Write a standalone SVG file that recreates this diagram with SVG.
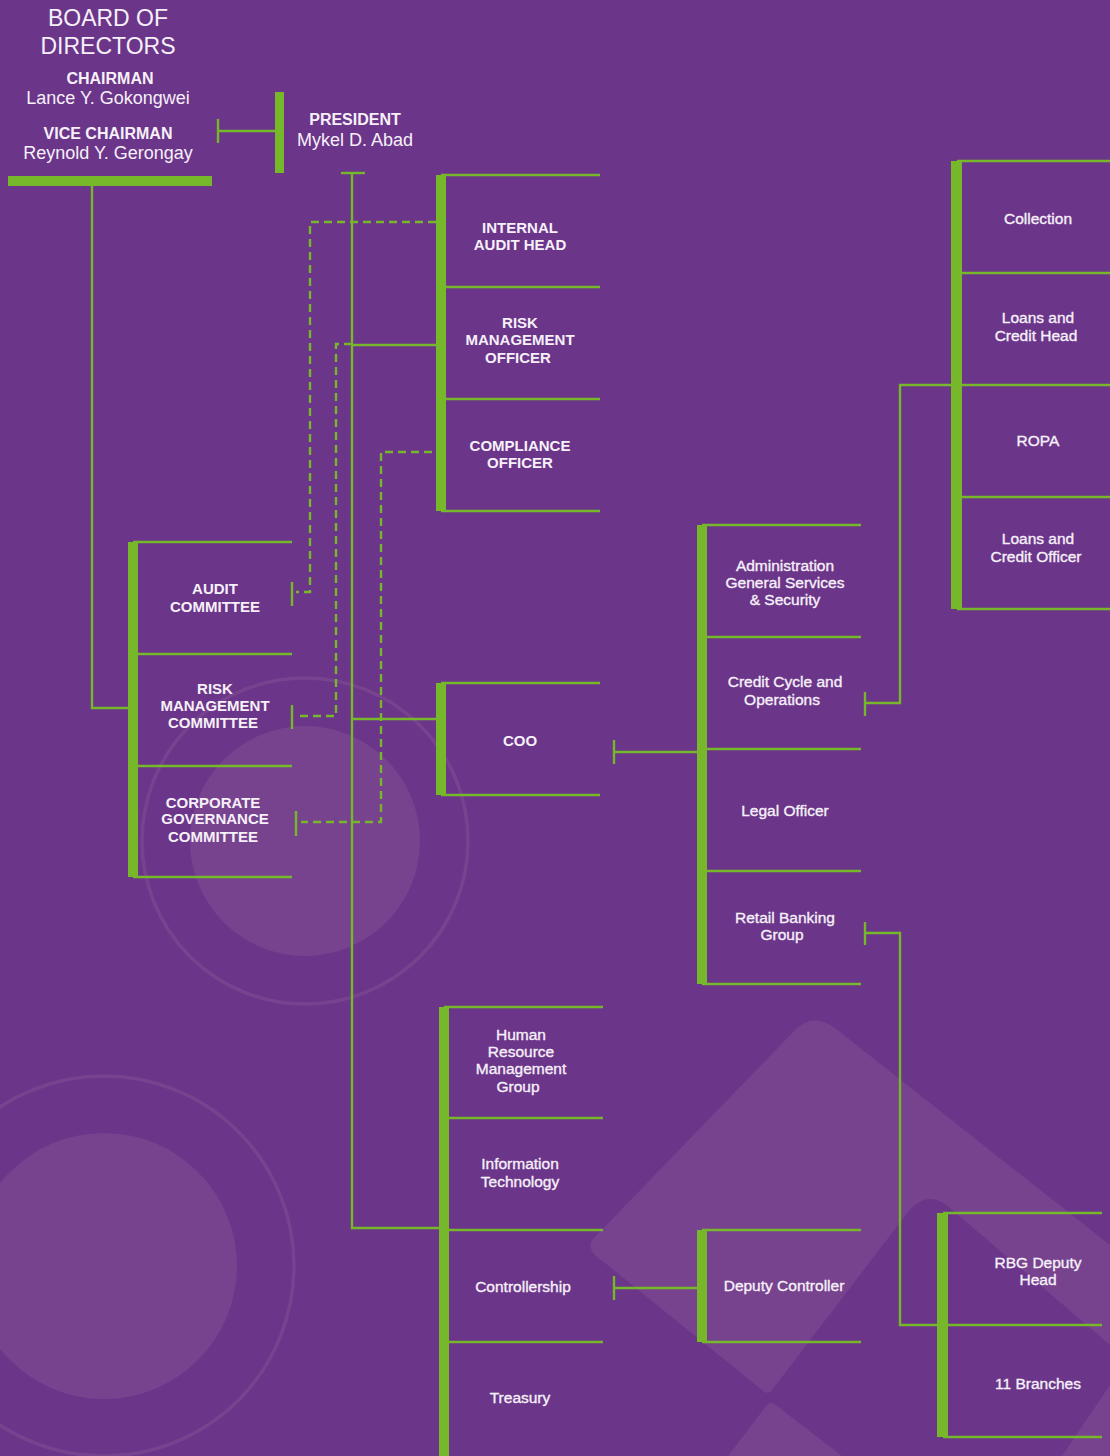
<svg xmlns="http://www.w3.org/2000/svg" width="1110" height="1456" viewBox="0 0 1110 1456">
<defs>
<style>
.bg{fill:#6B358A}
.lt{fill:#77438F}
.ring{fill:none;stroke:#77438F;stroke-width:3.5}
.bar{fill:#77B72A}
.ln{stroke:#77B72A;stroke-width:2.4;fill:none}
.dash{stroke:#77B72A;stroke-width:2.4;fill:none;stroke-dasharray:8 5}
text{font-family:"Liberation Sans",Arial,Helvetica,sans-serif;fill:#F6F0F8;text-anchor:middle}
.cap{font-size:15px;font-weight:bold}
.lbl{font-size:15.5px;stroke:#F6F0F8;stroke-width:0.35}
.title{font-size:23px}
.role{font-size:16px;font-weight:bold}
.name{font-size:18px}
</style>
</defs>
<rect class="bg" x="0" y="0" width="1110" height="1456"/>
<g id="background">
<circle class="lt" cx="305" cy="841" r="115"/>
<circle class="ring" cx="305" cy="841" r="163"/>
<circle class="lt" cx="104" cy="1266" r="133"/>
<circle class="ring" cx="104" cy="1266" r="190"/>
<path class="lt" d="M592,1240 L795,1030 Q813,1012 835,1028 L1110,1245 L1110,1345 L950,1208 Q927,1188 908,1212 L772,1390 Q769,1396 762,1390 L595,1255 Q588,1248 592,1240 Z"/>
<path class="lt" d="M728,1456 L766,1406 Q771,1400 777,1406 L842,1456 Z"/>
<path class="lt" d="M1062,1456 L1110,1385 L1110,1456 Z"/>
</g>
<g id="connectors">
<rect class="bar" x="8" y="176" width="204" height="10"/>
<polyline class="ln" points="92,186 92,708 128,708"/>
<line class="ln" x1="218" y1="119" x2="218" y2="143"/>
<line class="ln" x1="218" y1="131" x2="276" y2="131"/>
<rect class="bar" x="275" y="92" width="9" height="81"/>
<line class="ln" x1="341" y1="173" x2="365" y2="173"/>
<polyline class="ln" points="352,173 352,1228 440,1228"/>
<line class="ln" x1="352" y1="345" x2="436" y2="345"/>
<line class="ln" x1="352" y1="719" x2="436" y2="719"/>
<polyline class="dash" points="436,222 310,222 310,592 296,592"/>
<line class="ln" x1="292" y1="582" x2="292" y2="606"/>
<polyline class="dash" points="352,344 336,344 336,716 296,716"/>
<line class="ln" x1="292" y1="705" x2="292" y2="729"/>
<polyline class="dash" points="432,452 381,452 381,822 301,822"/>
<line class="ln" x1="296" y1="811" x2="296" y2="836"/>
<line class="ln" x1="614" y1="740" x2="614" y2="764"/>
<line class="ln" x1="614" y1="752" x2="697" y2="752"/>
<line class="ln" x1="865" y1="692" x2="865" y2="716"/>
<polyline class="ln" points="865,703 900,703 900,385 951,385"/>
<line class="ln" x1="865" y1="922" x2="865" y2="945"/>
<polyline class="ln" points="865,933 900,933 900,1325 938,1325"/>
<line class="ln" x1="614" y1="1276" x2="614" y2="1300"/>
<line class="ln" x1="614" y1="1288" x2="697" y2="1288"/>
</g>
<g id="block-top">
<rect class="bar" x="436" y="175" width="10" height="336"/>
<line class="ln" x1="441" y1="175" x2="600" y2="175"/>
<line class="ln" x1="441" y1="287" x2="600" y2="287"/>
<line class="ln" x1="441" y1="399" x2="600" y2="399"/>
<line class="ln" x1="441" y1="511" x2="600" y2="511"/>
</g>
<g id="block-committees">
<rect class="bar" x="128" y="542" width="10" height="335"/>
<line class="ln" x1="133" y1="542" x2="292" y2="542"/>
<line class="ln" x1="133" y1="654" x2="292" y2="654"/>
<line class="ln" x1="133" y1="766" x2="292" y2="766"/>
<line class="ln" x1="133" y1="877" x2="292" y2="877"/>
</g>
<g id="block-coo">
<rect class="bar" x="436" y="683" width="10" height="112"/>
<line class="ln" x1="441" y1="683" x2="600" y2="683"/>
<line class="ln" x1="441" y1="795" x2="600" y2="795"/>
</g>
<g id="block-admin">
<rect class="bar" x="697" y="525" width="10" height="459"/>
<line class="ln" x1="702" y1="525" x2="861" y2="525"/>
<line class="ln" x1="702" y1="637" x2="861" y2="637"/>
<line class="ln" x1="702" y1="749" x2="861" y2="749"/>
<line class="ln" x1="702" y1="871" x2="861" y2="871"/>
<line class="ln" x1="702" y1="984" x2="861" y2="984"/>
</g>
<g id="block-credit">
<rect class="bar" x="951" y="161" width="11" height="448"/>
<line class="ln" x1="957" y1="161" x2="1110" y2="161"/>
<line class="ln" x1="957" y1="273" x2="1110" y2="273"/>
<line class="ln" x1="957" y1="385" x2="1110" y2="385"/>
<line class="ln" x1="957" y1="497" x2="1110" y2="497"/>
<line class="ln" x1="957" y1="609" x2="1110" y2="609"/>
</g>
<g id="block-bottom">
<rect class="bar" x="439" y="1007" width="10" height="449"/>
<line class="ln" x1="444" y1="1007" x2="603" y2="1007"/>
<line class="ln" x1="444" y1="1118" x2="603" y2="1118"/>
<line class="ln" x1="444" y1="1230" x2="603" y2="1230"/>
<line class="ln" x1="444" y1="1342" x2="603" y2="1342"/>
</g>
<g id="block-deputy">
<rect class="bar" x="697" y="1230" width="10" height="112"/>
<line class="ln" x1="702" y1="1230" x2="861" y2="1230"/>
<line class="ln" x1="702" y1="1342" x2="861" y2="1342"/>
</g>
<g id="block-rbg">
<rect class="bar" x="937" y="1213" width="11" height="224"/>
<line class="ln" x1="943" y1="1213" x2="1102" y2="1213"/>
<line class="ln" x1="943" y1="1325" x2="1102" y2="1325"/>
<line class="ln" x1="943" y1="1437" x2="1102" y2="1437"/>
</g>
<g id="board"><text class="title" x="108" y="26">BOARD OF</text><text class="title" x="108" y="54">DIRECTORS</text></g>
<g id="chairman"><text class="role" x="110" y="84">CHAIRMAN</text><text class="name" x="108" y="104">Lance Y. Gokongwei</text></g>
<g id="vice-chairman"><text class="role" x="108" y="139">VICE CHAIRMAN</text><text class="name" x="108" y="159">Reynold Y. Gerongay</text></g>
<g id="president"><text class="role" x="355" y="125">PRESIDENT</text><text class="name" x="355" y="146">Mykel D. Abad</text></g>
<g id="internal-audit"><text class="cap" x="520" y="233">INTERNAL</text><text class="cap" x="520" y="250">AUDIT HEAD</text></g>
<g id="risk-officer"><text class="cap" x="520" y="328">RISK</text><text class="cap" x="520" y="345">MANAGEMENT</text><text class="cap" x="518" y="363">OFFICER</text></g>
<g id="compliance"><text class="cap" x="520" y="451">COMPLIANCE</text><text class="cap" x="520" y="468">OFFICER</text></g>
<g id="audit-committee"><text class="cap" x="215" y="594">AUDIT</text><text class="cap" x="215" y="612">COMMITTEE</text></g>
<g id="risk-committee"><text class="cap" x="215" y="694">RISK</text><text class="cap" x="215" y="711">MANAGEMENT</text><text class="cap" x="213" y="728">COMMITTEE</text></g>
<g id="cg-committee"><text class="cap" x="213" y="808">CORPORATE</text><text class="cap" x="215" y="824">GOVERNANCE</text><text class="cap" x="213" y="842">COMMITTEE</text></g>
<g id="coo"><text class="cap" x="520" y="746">COO</text></g>
<g id="admin"><text class="lbl" x="785" y="571">Administration</text><text class="lbl" x="785" y="588">General Services</text><text class="lbl" x="785" y="605">&amp; Security</text></g>
<g id="credit-cycle"><text class="lbl" x="785" y="687">Credit Cycle and</text><text class="lbl" x="782" y="705">Operations</text></g>
<g id="legal"><text class="lbl" x="785" y="816">Legal Officer</text></g>
<g id="retail"><text class="lbl" x="785" y="923">Retail Banking</text><text class="lbl" x="782" y="940">Group</text></g>
<g id="collection"><text class="lbl" x="1038" y="224">Collection</text></g>
<g id="loans-head"><text class="lbl" x="1038" y="323">Loans and</text><text class="lbl" x="1036" y="341">Credit Head</text></g>
<g id="ropa"><text class="lbl" x="1038" y="446">ROPA</text></g>
<g id="loans-officer"><text class="lbl" x="1038" y="544">Loans and</text><text class="lbl" x="1036" y="562">Credit Officer</text></g>
<g id="hr"><text class="lbl" x="521" y="1040">Human</text><text class="lbl" x="521" y="1057">Resource</text><text class="lbl" x="521" y="1074">Management</text><text class="lbl" x="518" y="1092">Group</text></g>
<g id="it"><text class="lbl" x="520" y="1169">Information</text><text class="lbl" x="520" y="1187">Technology</text></g>
<g id="controllership"><text class="lbl" x="523" y="1292">Controllership</text></g>
<g id="treasury"><text class="lbl" x="520" y="1403">Treasury</text></g>
<g id="deputy-controller"><text class="lbl" x="784" y="1291">Deputy Controller</text></g>
<g id="rbg-deputy"><text class="lbl" x="1038" y="1268">RBG Deputy</text><text class="lbl" x="1038" y="1285">Head</text></g>
<g id="branches"><text class="lbl" x="1038" y="1389">11 Branches</text></g>
</svg>
